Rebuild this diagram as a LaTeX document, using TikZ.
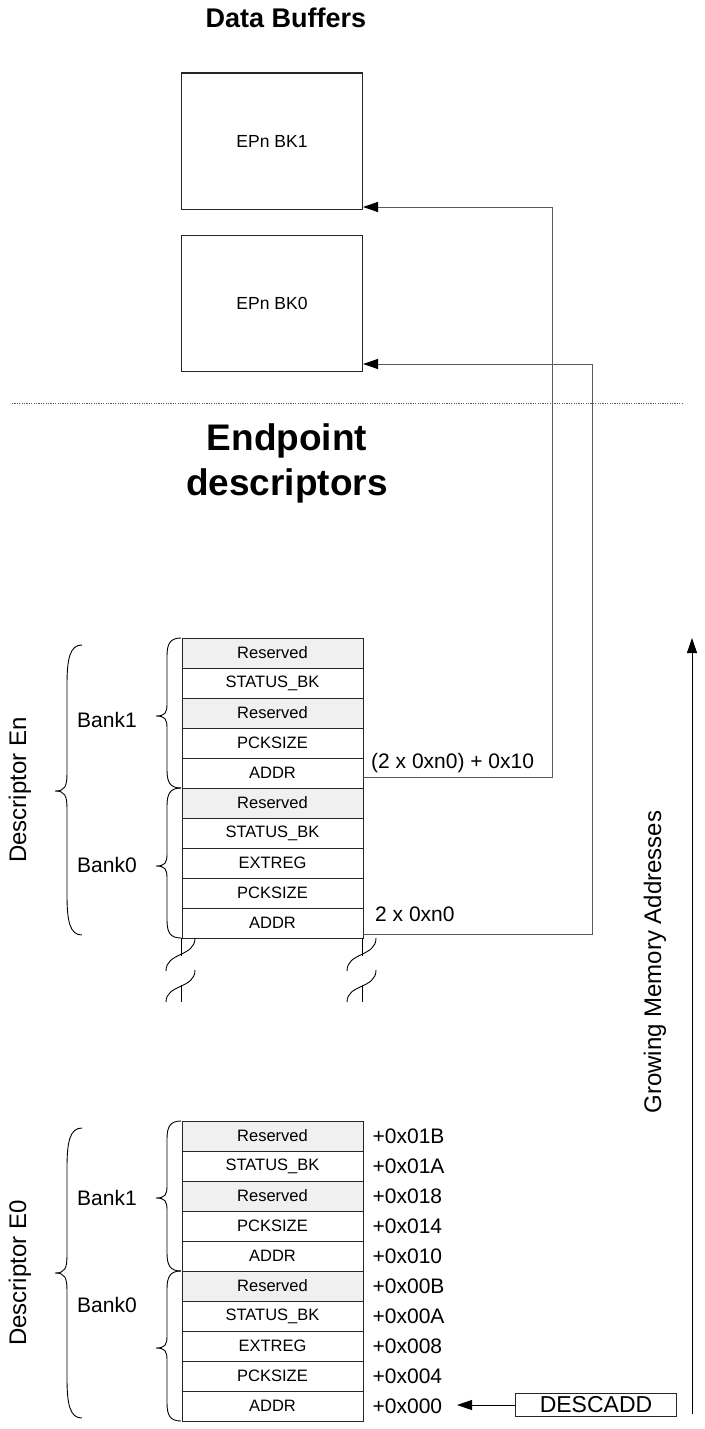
\documentclass[tikz,border=0pt]{standalone}
\usepackage{fontspec}
\setmainfont{Liberation Sans}
\usetikzlibrary{arrows.meta,calc}
\definecolor{resfill}{RGB}{240,240,240}
\definecolor{linegray}{RGB}{90,90,90}
\begin{document}
\begin{tikzpicture}[x=1pt,y=-1pt,
  cell/.style={draw=black!85,line width=0.9pt,minimum width=181pt,minimum height=30pt,inner sep=0pt,font=\fontsize{16.5}{18}\selectfont},
  res/.style={cell,fill=resfill},
  buf/.style={draw=black!85,line width=1pt,minimum width=181pt,minimum height=136pt,inner sep=0pt,font=\fontsize{17.5}{20}\selectfont},
  lbl/.style={font=\fontsize{21}{24}\selectfont,inner sep=0pt},
  conn/.style={draw=linegray,line width=0.9pt},
  tip/.style={-{Triangle[length=15pt,width=10pt,color=black]}},
  brc/.style={draw=black,line width=0.9pt},
  title/.style={font=\bfseries\fontsize{27}{32}\selectfont,align=center,inner sep=0pt}]
\useasboundingbox (0,0) rectangle (704,1429);

% titles
\node[title] (t1) at (286,18) {Data Buffers};
\node[title,font=\bfseries\fontsize{37}{45}\selectfont] (t2) at (287,463) {Endpoint\\descriptors};

% data buffers
\node[buf] (bk1) at (272,141) {EPn BK1};
\node[buf] (bk0) at (272,303) {EPn BK0};

% dotted separator
\coordinate (s1) at (12,403);
\coordinate (s2) at (683,403);
\draw[linegray,line width=0.9pt,dash pattern=on 1.2pt off 1.2pt] (s1) -- (s2);

% Descriptor En
\node[res]  (enA5) at (272.5,653) {Reserved};
\node[cell] (enA4) at (272.5,683) {STATUS\_BK};
\node[res]  (enA3) at (272.5,713) {Reserved};
\node[cell] (enA2) at (272.5,743) {PCKSIZE};
\node[cell] (enA1) at (272.5,773) {ADDR};
\node[res]  (enB5) at (272.5,803) {Reserved};
\node[cell] (enB4) at (272.5,833) {STATUS\_BK};
\node[cell] (enB3) at (272.5,863) {EXTREG};
\node[cell] (enB2) at (272.5,893) {PCKSIZE};
\node[cell] (enB1) at (272.5,923) {ADDR};

% Descriptor E0
\node[res]  (e0A5) at (272.5,1136) {Reserved};
\node[cell] (e0A4) at (272.5,1166) {STATUS\_BK};
\node[res]  (e0A3) at (272.5,1196) {Reserved};
\node[cell] (e0A2) at (272.5,1226) {PCKSIZE};
\node[cell] (e0A1) at (272.5,1256) {ADDR};
\node[res]  (e0B5) at (272.5,1286) {Reserved};
\node[cell] (e0B4) at (272.5,1316) {STATUS\_BK};
\node[cell] (e0B3) at (272.5,1346) {EXTREG};
\node[cell] (e0B2) at (272.5,1376) {PCKSIZE};
\node[cell] (e0B1) at (272.5,1406) {ADDR};

% offsets
\foreach \n/\t in {e0A5/+0x01B,e0A4/+0x01A,e0A3/+0x018,e0A2/+0x014,e0A1/+0x010,e0B5/+0x00B,e0B4/+0x00A,e0B3/+0x008,e0B2/+0x004,e0B1/+0x000}
  \node[lbl,anchor=west] at ($(\n.east)+(9,0)$) {\t};

% pointer labels
\node[lbl,anchor=base west] (l1) at (371,768) {(2 x 0xn0) + 0x10};
\node[lbl,anchor=base west] (l0) at (375,921) {2 x 0xn0};

% connectors to buffers
\coordinate (p1) at (552,777);
\coordinate (q1) at (363,207);
\draw[conn,tip] (enA1.east |- p1) -- (p1) |- (bk1.east |- q1);
\coordinate (p0) at (592,934);
\coordinate (q0) at (363,364);
\draw[conn,tip] (enB1.east |- p0) -- (p0) |- (bk0.east |- q0);

% break marks
\foreach \bx in {181,362}{
  \draw[brc] (\bx,938) -- (\bx,956);
  \draw[brc] (\bx+14,938) .. controls (\bx+14,957) and (\bx-15,952) .. (\bx-15,971);
  \draw[brc] (\bx+14,970) .. controls (\bx+14,989) and (\bx-15,984) .. (\bx-15,1002);
  \draw[brc] (\bx,985) -- (\bx,1002);
}

% braces: xr, xb, xt, ytop, ybot, ymid, end radius, tip radius
\newcommand\mybrace[8]{%
  \draw[brc] (#1,#4) .. controls (#2+3,#4) and (#2,#4+#7/3) .. (#2,#4+#7)
    -- (#2,#6-#8) .. controls (#2,#6-#8/4) and (#2-2,#6) .. (#3,#6)
    .. controls (#2-2,#6) and (#2,#6+#8/4) .. (#2,#6+#8)
    -- (#2,#5-#7) .. controls (#2,#5-#7/3) and (#2+3,#5) .. (#1,#5);}
\mybrace{82}{67}{55}{645}{935}{791}{40}{18}
\mybrace{181}{167}{156}{638}{788}{716}{18}{12}
\mybrace{181}{167}{156}{788}{938}{866}{18}{12}
\mybrace{82}{67}{55}{1128}{1418}{1273}{40}{18}
\mybrace{181}{167}{156}{1121}{1271}{1198}{18}{12}
\mybrace{181}{167}{156}{1271}{1421}{1348}{18}{12}

\node[lbl] (bn1) at (107,720) {Bank1};
\node[lbl] (bn0) at (107,865) {Bank0};
\node[lbl] (bz1) at (107,1198) {Bank1};
\node[lbl] (bz0) at (107,1305) {Bank0};

\node[font=\fontsize{24}{28}\selectfont,rotate=90,inner sep=0pt] (den) at (20,790) {Descriptor En};
\node[font=\fontsize{24}{28}\selectfont,rotate=90,inner sep=0pt] (de0) at (20,1273) {Descriptor E0};

% DESCADD
\node[draw=black!85,line width=1pt,minimum width=161pt,minimum height=23pt,inner sep=0pt,font=\fontsize{23}{26}\selectfont] (desc) at (596,1405) {DESCADD};
\coordinate (da) at (457,1405);
\draw[conn,draw=black,tip] (desc.west) -- (da);

% growing memory
\coordinate (g0) at (692,1414);
\coordinate (g1) at (692,638);
\draw[conn,draw=black,tip] (g0) -- (g1);
\node[font=\fontsize{24}{28}\selectfont,rotate=90,inner sep=0pt] (gma) at (655,962) {Growing Memory Addresses};
\end{tikzpicture}
\end{document}
